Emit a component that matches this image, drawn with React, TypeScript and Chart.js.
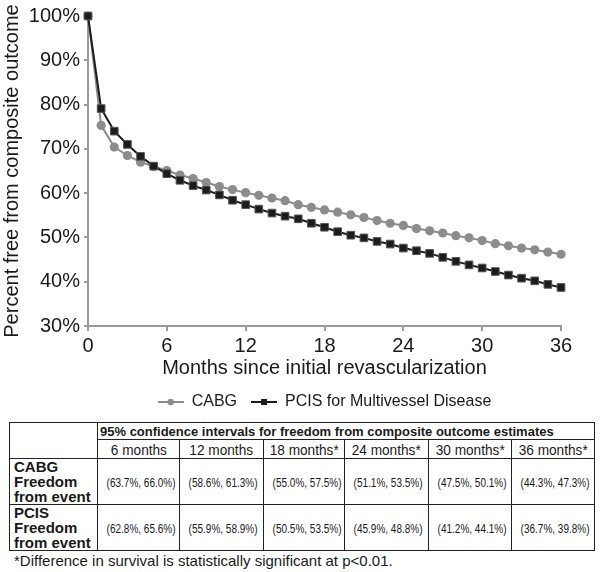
import React, { useEffect, useRef } from "react";
import { Chart, registerables } from "chart.js";

Chart.register(...registerables);

const months = [0, 1, 2, 3, 4, 5, 6, 7, 8, 9, 10, 11, 12, 13, 14, 15, 16, 17, 18, 19, 20, 21, 22, 23, 24, 25, 26, 27, 28, 29, 30, 31, 32, 33, 34, 35, 36];
const cabg = [100, 75.3, 70.4, 68.5, 67.0, 66.0, 65.1, 64.1, 63.3, 62.4, 61.5, 60.8, 60.1, 59.5, 58.9, 58.3, 57.4, 56.8, 56.2, 55.7, 55.1, 54.5, 53.8, 53.2, 52.7, 52.0, 51.5, 51.0, 50.4, 49.9, 49.3, 48.6, 48.1, 47.6, 47.2, 46.7, 46.2];
const pcis = [100, 79.1, 74.0, 71.0, 68.3, 66.1, 64.4, 62.9, 61.7, 60.7, 59.6, 58.4, 57.4, 56.4, 55.5, 54.8, 54.2, 53.2, 52.3, 51.3, 50.5, 49.9, 49.1, 48.5, 47.6, 47.0, 46.4, 45.5, 44.6, 43.8, 43.1, 42.3, 41.5, 40.8, 40.2, 39.4, 38.7];
const seriesNames = ["CABG", "PCIS for Multivessel Disease"];
const xTitle = "Months since initial revascularization";
const yTitle = "Percent free from composite outcome";

const tableTitle = "95% confidence intervals for freedom from composite outcome estimates";
const tableCols = ["6 months", "12 months", "18 months*", "24 months*", "30 months*", "36 months*"];
const rowLabels = [["CABG", "Freedom", "from event"], ["PCIS", "Freedom", "from event"]];
const cabgCI = ["(63.7%, 66.0%)", "(58.6%, 61.3%)", "(55.0%, 57.5%)", "(51.1%, 53.5%)", "(47.5%, 50.1%)", "(44.3%, 47.3%)"];
const pcisCI = ["(62.8%, 65.6%)", "(55.9%, 58.9%)", "(50.5%, 53.5%)", "(45.9%, 48.8%)", "(41.2%, 44.1%)", "(36.7%, 39.8%)"];
const footnote = "*Difference in survival is statistically significant at p<0.01.";

const FONT = "'Liberation Sans', Arial, Helvetica, sans-serif";
const TEXT = "#1a1a1a";
const GRAY = "#8c8c8c";
const DARK = "#1c1c1c";
const AXIS = "#9a9a9a";

function legendImage(color: string, kind: "circle" | "square"): HTMLCanvasElement {
  const c = document.createElement("canvas");
  c.width = 26;
  c.height = 12;
  const g = c.getContext("2d")!;
  g.strokeStyle = color;
  g.lineWidth = 2;
  g.beginPath();
  g.moveTo(0, 6);
  g.lineTo(26, 6);
  g.stroke();
  g.fillStyle = color;
  if (kind === "circle") {
    g.beginPath();
    g.arc(13, 6, 3.2, 0, Math.PI * 2);
    g.fill();
  } else {
    g.fillRect(10, 3, 6, 6);
  }
  return c;
}

function ChartBox() {
  const ref = useRef<HTMLCanvasElement | null>(null);
  useEffect(() => {
    if (!ref.current) return;
    const imgs = [legendImage(GRAY, "circle"), legendImage(DARK, "square")];
    const chart = new Chart(ref.current, {
      type: "line",
      data: {
        datasets: [
          {
            label: seriesNames[0],
            data: months.map((m, i) => ({ x: m, y: cabg[i] })),
            borderColor: GRAY,
            backgroundColor: GRAY,
            borderWidth: 2,
            pointStyle: "circle",
            pointRadius: 4.6,
            pointBorderWidth: 0,
            pointBackgroundColor: GRAY,
            clip: false,
            order: 1,
            tension: 0,
          },
          {
            label: seriesNames[1],
            data: months.map((m, i) => ({ x: m, y: pcis[i] })),
            borderColor: DARK,
            backgroundColor: DARK,
            borderWidth: 2,
            pointStyle: "rect",
            pointRadius: 5.4,
            pointBorderWidth: 1,
            pointBorderColor: "#555",
            pointBackgroundColor: DARK,
            clip: false,
            order: 0,
            tension: 0,
          },
        ],
      },
      options: {
        animation: false,
        responsive: false,
        devicePixelRatio: 1,
        layout: { padding: { top: 16, right: 39, left: 0, bottom: 0 } },
        plugins: {
          tooltip: { enabled: false },
          legend: {
            position: "bottom",
            fullSize: false,
            labels: {
              usePointStyle: true,
              pointStyleWidth: 26,
              boxHeight: 12,
              padding: 14,
              color: TEXT,
              font: { family: FONT, size: 16 },
              generateLabels: () =>
                seriesNames.map((name, i) => ({
                  text: name,
                  pointStyle: imgs[i],
                  fillStyle: "transparent",
                  strokeStyle: "transparent",
                  lineWidth: 0,
                  hidden: false,
                  datasetIndex: i,
                  fontColor: TEXT,
                })),
            },
          },
        },
        scales: {
          x: {
            type: "linear",
            min: 0,
            max: 36,
            afterFit: (s: any) => {
              s.height = 54;
            },
            ticks: { stepSize: 6, color: TEXT, font: { family: FONT, size: 20 }, padding: 3, maxRotation: 0 },
            grid: { display: true, drawOnChartArea: false, drawTicks: true, tickLength: 5, color: AXIS, lineWidth: 2 },
            border: { display: true, color: AXIS, width: 2 },
            title: { display: true, text: xTitle, color: TEXT, font: { family: FONT, size: 20 }, padding: { top: 0, bottom: 0 } },
          },
          y: {
            type: "linear",
            min: 30,
            max: 100,
            afterFit: (s: any) => {
              s.width = 88;
            },
            ticks: {
              stepSize: 10,
              color: TEXT,
              font: { family: FONT, size: 20 },
              padding: 4,
              callback: (v: any) => `${v}%`,
            },
            grid: { display: true, drawOnChartArea: false, drawTicks: true, tickLength: 4, color: AXIS, lineWidth: 2 },
            border: { display: true, color: AXIS, width: 2 },
            title: { display: true, text: yTitle, color: TEXT, font: { family: FONT, size: 20 }, padding: { top: 0, bottom: 0 } },
          },
        },
      },
    } as any);
    return () => chart.destroy();
  }, []);
  return <canvas ref={ref} width={600} height={420} style={{ display: "block", width: 600, height: 420 }} />;
}

const cellBorder = "1px solid #222";

export default function App() {
  const colWidths = [88, 82, 84, 81, 84, 83, 83];
  const td: React.CSSProperties = { border: cellBorder, padding: 0, textAlign: "center", verticalAlign: "middle", whiteSpace: "nowrap", overflow: "hidden" };
  const narrow = (size: number, sx: number): React.CSSProperties => ({
    display: "inline-block",
    fontSize: size,
    transform: `scaleX(${sx})`,
    transformOrigin: "center",
    whiteSpace: "nowrap",
  });
  const rowHead: React.CSSProperties = {
    border: cellBorder,
    padding: "0 0 0 4px",
    textAlign: "left",
    verticalAlign: "top",
    fontWeight: "bold",
    fontSize: 15,
    lineHeight: "15px",
    whiteSpace: "nowrap",
  };
  return (
    <div style={{ position: "absolute", left: 0, top: 0, width: 600, height: 572, background: "#fff", fontFamily: FONT, color: TEXT }}>
      <ChartBox />
      <table
        style={{
          position: "absolute",
          left: 9,
          top: 422,
          width: 585,
          borderCollapse: "collapse",
          tableLayout: "fixed",
          border: "1.5px solid #222",
          fontFamily: FONT,
          color: TEXT,
        }}
      >
        <colgroup>
          {colWidths.map((w, i) => (
            <col key={i} style={{ width: w }} />
          ))}
        </colgroup>
        <tbody>
          <tr style={{ height: 17 }}>
            <td rowSpan={2} style={{ ...td }}></td>
            <td colSpan={6} style={{ ...td, fontWeight: "bold", fontSize: 13, textAlign: "left", paddingLeft: 2, lineHeight: "15px" }}>
              {tableTitle}
            </td>
          </tr>
          <tr style={{ height: 19 }}>
            {tableCols.map((c, i) => (
              <td key={i} style={{ ...td, lineHeight: "17px" }}>
                <span style={narrow(15.5, 0.88)}>{c}</span>
              </td>
            ))}
          </tr>
          {[cabgCI, pcisCI].map((row, r) => (
            <tr key={r} style={{ height: 46 }}>
              <td style={rowHead}>
                {rowLabels[r].map((l, k) => (
                  <div key={k}>{l}</div>
                ))}
              </td>
              {row.map((v, i) => (
                <td key={i} style={td}>
                  <span style={narrow(12.5, 0.8)}>{v}</span>
                </td>
              ))}
            </tr>
          ))}
        </tbody>
      </table>
      <div style={{ position: "absolute", left: 14, top: 552, fontSize: 15, lineHeight: "18px", whiteSpace: "nowrap" }}>{footnote}</div>
    </div>
  );
}
